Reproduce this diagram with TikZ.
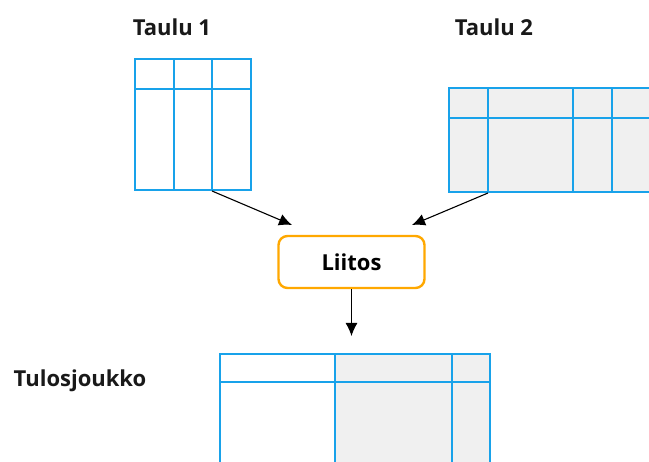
\documentclass[tikz,border=0pt]{standalone}
\usepackage{fontspec}
\setmainfont{Open Sans}
\usetikzlibrary{arrows.meta}

\definecolor{taulusin}{RGB}{24,162,234}
\definecolor{harmaa}{RGB}{240,240,240}
\definecolor{oranssi}{RGB}{255,168,0}

\tikzset{
  ruudukko/.style={draw=taulusin,line width=2.6pt},
  otsikko/.style={font=\bfseries\fontsize{22}{24}\selectfont,text=black!90},
  liitosbox/.style={draw=oranssi,line width=2.4pt,rounded corners=9pt,fill=white,
    minimum width=146pt,minimum height=52pt,font=\bfseries\fontsize{22}{24}\selectfont},
  nuoli/.style={line width=1.1pt,-{Latex[length=13pt,width=12pt]}}
}

\begin{document}
\begin{tikzpicture}[x=1pt,y=-1pt,line join=miter]

\useasboundingbox (0,0) rectangle (649,462);

% otsikot
\node[otsikko] (t1) at (172,27) {Taulu 1};
\node[otsikko] (t2) at (494,27) {Taulu 2};
\node[otsikko] (tulos) at (80,381) {Tulosjoukko};

% taulu 1
\draw[ruudukko] (135,59) rectangle (251,190);
\draw[ruudukko] (135,89) -- (251,89);
\foreach \x in {174,212}
  \draw[ruudukko] (\x,59) -- (\x,190);
\coordinate (t1ala) at (212,191);

% taulu 2 (jatkuu reunan yli)
\fill[harmaa] (449,88) rectangle (700,192);
\draw[ruudukko] (700,88) -- (449,88) -- (449,192) -- (700,192);
\draw[ruudukko] (449,118) -- (700,118);
\foreach \x in {488,573,612}
  \draw[ruudukko] (\x,88) -- (\x,192);
\coordinate (t2ala) at (488,193);

% liitos
\node[liitosbox] (liitos) at (351.5,262) {Liitos};
\coordinate (vasenkarki) at (292,225);
\coordinate (oikeakarki) at (412,225);
\coordinate (alakarki) at (351.5,336);

\draw[nuoli] (t1ala) -- (vasenkarki);
\draw[nuoli] (t2ala) -- (oikeakarki);
\draw[nuoli] (liitos.south) -- (alakarki);

% tulosjoukko
\fill[harmaa] (335,354) rectangle (490,480);
\draw[ruudukko] (220,480) -- (220,354) -- (490,354) -- (490,480);
\draw[ruudukko] (220,382) -- (490,382);
\foreach \x in {335,452}
  \draw[ruudukko] (\x,354) -- (\x,480);

\end{tikzpicture}
\end{document}
